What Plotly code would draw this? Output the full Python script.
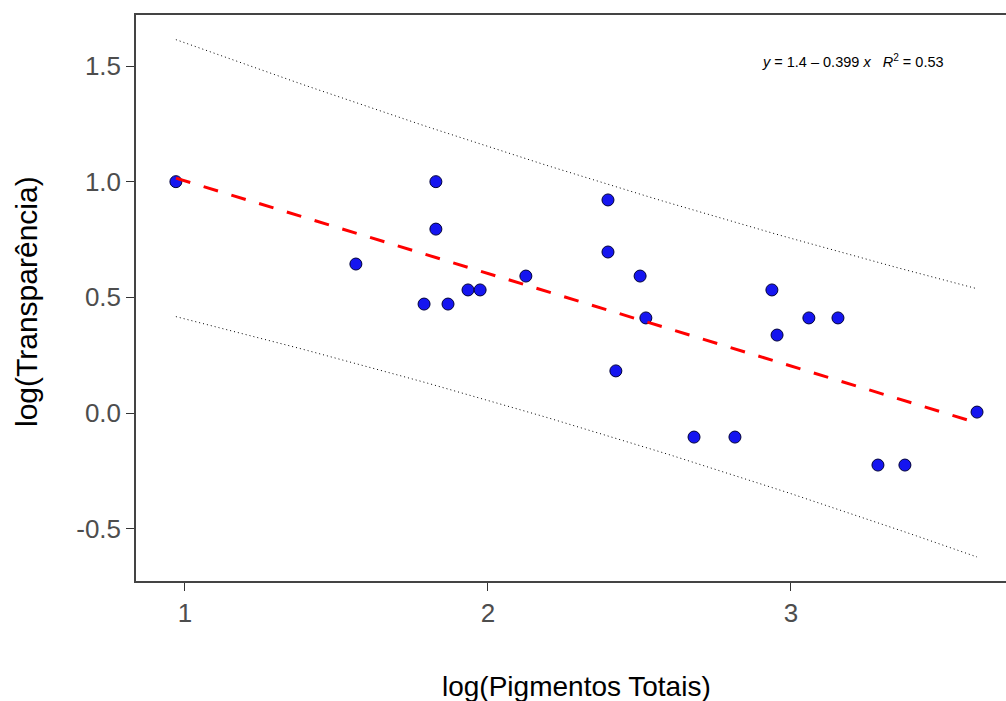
import numpy as np
import plotly.graph_objects as go

# Data
log_pigmentos = [0.970, 1.564, 1.789, 1.828, 1.828, 1.868, 1.934, 1.974, 2.125,
                 2.396, 2.396, 2.502, 2.422, 2.521, 2.680, 2.815, 2.937, 2.954,
                 3.059, 3.155, 3.287, 3.376, 3.614]
log_transp = [1.000, 0.644, 0.471, 1.000, 0.795, 0.471, 0.532, 0.532, 0.592,
              0.921, 0.696, 0.592, 0.182, 0.411, -0.104, -0.104, 0.532, 0.337,
              0.411, 0.411, -0.225, -0.225, 0.004]
y_ticks = [-0.5, 0.0, 0.5, 1.0, 1.5]
y_tick_labels = ["-0.5", "0.0", "0.5", "1.0", "1.5"]
x_ticks = [1, 2, 3]
x_tick_labels = ["1", "2", "3"]
eq_label = "<i>y</i> = 1.4 \u2013 0.399 <i>x</i>&nbsp;&nbsp;&nbsp;<i>R</i><sup>2</sup> = 0.53"

# Linear fit and 95% prediction interval
x = np.array(log_pigmentos)
y = np.array(log_transp)
n = len(x)
slope, intercept = np.polyfit(x, y, 1)
resid = y - (intercept + slope * x)
s = np.sqrt(np.sum(resid ** 2) / (n - 2))
t_crit = 2.0796  # t(0.975, df=21)
xbar = x.mean()
sxx = np.sum((x - xbar) ** 2)
xs = np.linspace(x.min(), x.max(), 80)
fit = intercept + slope * xs
half = t_crit * s * np.sqrt(1 + 1 / n + (xs - xbar) ** 2 / sxx)

fig = go.Figure()
fig.add_trace(go.Scatter(
    x=log_pigmentos, y=log_transp, mode="markers",
    marker=dict(size=12, color="#1515f0", line=dict(color="#00003a", width=1)),
    hoverinfo="skip", showlegend=False))
fig.add_trace(go.Scatter(
    x=xs, y=fit + half, mode="lines",
    line=dict(color="black", width=1, dash="1px,3px"),
    hoverinfo="skip", showlegend=False))
fig.add_trace(go.Scatter(
    x=xs, y=fit - half, mode="lines",
    line=dict(color="black", width=1, dash="1px,3px"),
    hoverinfo="skip", showlegend=False))
fig.add_trace(go.Scatter(
    x=xs, y=fit, mode="lines",
    line=dict(color="#ff0000", width=3, dash="15px,14px"),
    hoverinfo="skip", showlegend=False))

font_family = "Liberation Sans, Arial, sans-serif"

fig.update_layout(
    width=1006, height=701,
    margin=dict(l=136, r=0, t=15, b=120),
    paper_bgcolor="white", plot_bgcolor="white",
    font=dict(family=font_family),
    xaxis=dict(
        range=[0.8383, 3.7096], showgrid=False, zeroline=False,
        showline=True, linecolor="#444444", linewidth=1.5, mirror=True,
        ticks="outside", ticklen=8, tickwidth=1.2, tickcolor="#333333",
        tickvals=x_ticks, ticktext=x_tick_labels,
        tickfont=dict(size=26, color="#4d4d4d", family=font_family)),
    yaxis=dict(
        range=[-0.7262, 1.7205], showgrid=False, zeroline=False,
        showline=True, linecolor="#444444", linewidth=1.5, mirror=False,
        ticks="outside", ticklen=8, tickwidth=1.2, tickcolor="#333333",
        tickvals=y_ticks, ticktext=y_tick_labels,
        tickfont=dict(size=26, color="#4d4d4d", family=font_family)),
    annotations=[
        dict(text=eq_label, xref="x", yref="y", x=3.512, y=1.52,
             xanchor="right", yanchor="middle", showarrow=False,
             font=dict(size=14.5, color="black", family=font_family)),
        dict(text="log(Pigmentos Totais)", xref="paper", yref="paper",
             x=(576 - 136) / 870, y=-(686 - 581) / 566,
             xanchor="center", yanchor="middle", showarrow=False,
             font=dict(size=28, color="black", family=font_family)),
        dict(text="log(Transparência)", xref="paper", yref="paper",
             x=-(136 - 26) / 870, y=(581 - 301) / 566, textangle=-90,
             xanchor="center", yanchor="middle", showarrow=False,
             font=dict(size=30, color="black", family=font_family)),
    ],
)

fig.write_html("out.html", config={"displayModeBar": False})
